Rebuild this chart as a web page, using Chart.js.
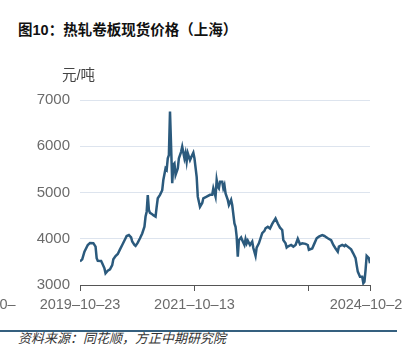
<!DOCTYPE html>
<html>
<head>
<meta charset="utf-8">
<script src="https://cdn.jsdelivr.net/npm/chart.js@4.4.1/dist/chart.umd.min.js"></script>
<style>
  html, body { margin: 0; padding: 0; background: #fff; }
  body { width: 402px; height: 350px; position: relative; overflow: hidden;
         font-family: "Liberation Sans", "Noto Sans CJK SC", sans-serif; }
  #title { position: absolute; left: 18px; top: 20px; line-height: 20px;
           font-size: 14.5px; font-weight: bold; color: #111; white-space: nowrap; }
  #box { position: absolute; left: 0; top: 60px; width: 402px; height: 250px; }
  #rule { position: absolute; left: 0; top: 330px; width: 397px; height: 1.5px; background: #35607f; }
  #source { position: absolute; left: 18px; top: 331px; line-height: 16px;
            font-size: 13px; font-style: italic; color: #333; white-space: nowrap; }
</style>
</head>
<body>
<div id="title">图10：热轧卷板现货价格（上海）</div>
<div id="box"><canvas id="priceChart"></canvas></div>
<div id="rule"></div>
<div id="source">资料来源：同花顺，方正中期研究院</div>
<script>
// weeks counted from 2019-10-23, price in 元/吨
const weeks = [0, 2, 4, 7, 9, 12, 14, 15, 16, 19, 20, 22, 23, 25, 27, 29, 30, 32, 34, 36,
  38, 41, 42, 44, 46, 47, 49, 50, 52, 54, 56, 58, 59, 60, 61, 62, 63, 65, 66, 68,
  69, 70, 72, 74, 75, 77, 78, 79, 80, 81, 82, 83, 84, 85, 86, 88, 89, 91, 92, 94,
  95, 96, 97, 99, 101, 102, 103, 105, 106, 108, 110, 111, 114, 117, 119, 120, 122, 123, 124, 125,
  126, 128, 129, 130, 131, 133, 134, 136, 137, 139, 140, 141, 142, 143, 145, 146, 148, 149, 150, 151,
  153, 155, 156, 158, 159, 161, 164, 166, 167, 169, 171, 173, 176, 178, 180, 182, 183, 185, 186, 187,
  190, 192, 194, 196, 198, 200, 203, 205, 206, 209, 211, 213, 215, 218, 220, 221, 223, 226, 228, 230,
  232, 233, 236, 238, 239, 241, 244, 246, 248, 249, 250, 252, 254, 255, 256, 257, 258, 260, 261];

const prices = [3510, 3555, 3720, 3865, 3910, 3905, 3830, 3580, 3525, 3520, 3470, 3360, 3255, 3310, 3340, 3430, 3555, 3625, 3670, 3770,
  3865, 4010, 4060, 4080, 4030, 3940, 3865, 3845, 3915, 4010, 4115, 4260, 4480, 4585, 4946, 4620, 4560, 4530, 4510, 4480,
  4690, 4875, 4950, 5050, 5270, 5520, 5490, 5740, 5810, 6750, 5990, 5200, 5600, 5630, 5380, 5520, 5740, 5880, 5990, 5740,
  5850, 5670, 5850, 5700, 5810, 5860, 5740, 5340, 4910, 4690, 4770, 4875, 4910, 4950, 4950, 5090, 4910, 5270, 5130, 5090,
  5230, 5230, 5090, 5160, 4980, 4840, 4730, 4840, 4730, 4330, 4260, 4045, 3610, 3970, 4030, 3970, 3865, 3990, 3900, 3960,
  3865, 3940, 3800, 3630, 3810, 3900, 4120, 4170, 4225, 4260, 4220, 4320, 4440, 4330, 4240, 4190, 3970, 3900, 3810, 3830,
  3865, 3830, 3865, 4000, 3880, 3900, 3890, 3865, 3760, 3790, 3900, 4010, 4045, 4080, 4060, 4045, 4010, 3970, 3865, 3790,
  3720, 3830, 3865, 3840, 3865, 3830, 3770, 3680, 3580, 3430, 3290, 3180, 3180, 3040, 3070, 3320, 3630, 3580, 3470];

const tickWeeks = [-87, 0, 103, 206, 261];
const tickLabels = ['2017–10–', '2019–10–23', '2021–10–13', '', '2024–10–23'];
const yTicks = [3000, 4000, 5000, 6000, 7000];
const unitLabel = '元/吨';

const FONT = '"Liberation Sans", "Noto Sans CJK SC", sans-serif';

const unitPlugin = {
  id: 'unitLabel',
  afterDraw(chart) {
    const ctx = chart.ctx;
    const area = chart.chartArea;
    ctx.save();
    ctx.font = '14.5px ' + FONT;
    ctx.fillStyle = '#444';
    ctx.textAlign = 'left';
    ctx.textBaseline = 'middle';
    ctx.fillText(unitLabel, area.left - 18, area.top - 24);
    ctx.restore();
  }
};

const ctx = document.getElementById('priceChart').getContext('2d');
new Chart(ctx, {
  type: 'line',
  data: {
    datasets: [{
      data: weeks.map((w, i) => ({ x: w, y: prices[i] })),
      borderColor: '#2b5a7d',
      borderWidth: 2.5,
      pointRadius: 0,
      tension: 0,
      fill: false
    }]
  },
  options: {
    responsive: true,
    maintainAspectRatio: false,
    animation: false,
    layout: { padding: { top: 40, right: 32, left: 0, bottom: 0 } },
    plugins: {
      legend: { display: false },
      tooltip: { enabled: false }
    },
    scales: {
      x: {
        type: 'linear',
        min: 0,
        max: 261,
        afterBuildTicks(scale) {
          scale.ticks = tickWeeks.map(v => ({ value: v }));
        },
        afterFit(scale) {
          scale.height = 25;
          scale.paddingLeft = 0;
          scale.paddingRight = 0;
        },
        ticks: {
          autoSkip: false,
          maxRotation: 0,
          padding: 5,
          color: '#6b6b6b',
          font: { size: 14.5, family: FONT },
          callback: (v) => {
            const k = tickWeeks.indexOf(v);
            return k >= 0 ? tickLabels[k] : '';
          }
        },
        grid: {
          drawOnChartArea: false,
          drawTicks: true,
          tickLength: 6,
          color: '#555'
        },
        border: { display: true, color: '#555', width: 1 }
      },
      y: {
        min: 3000,
        max: 7000,
        afterBuildTicks(scale) {
          scale.ticks = yTicks.map(v => ({ value: v }));
        },
        afterFit(scale) {
          scale.width = 80;
        },
        ticks: {
          padding: 10,
          color: '#6b6b6b',
          font: { size: 15, family: FONT },
          callback: (v) => String(v)
        },
        grid: {
          drawTicks: false,
          color: '#dde4ee',
          lineWidth: 1
        },
        border: { display: false }
      }
    }
  },
  plugins: [unitPlugin]
});
</script>
</body>
</html>
